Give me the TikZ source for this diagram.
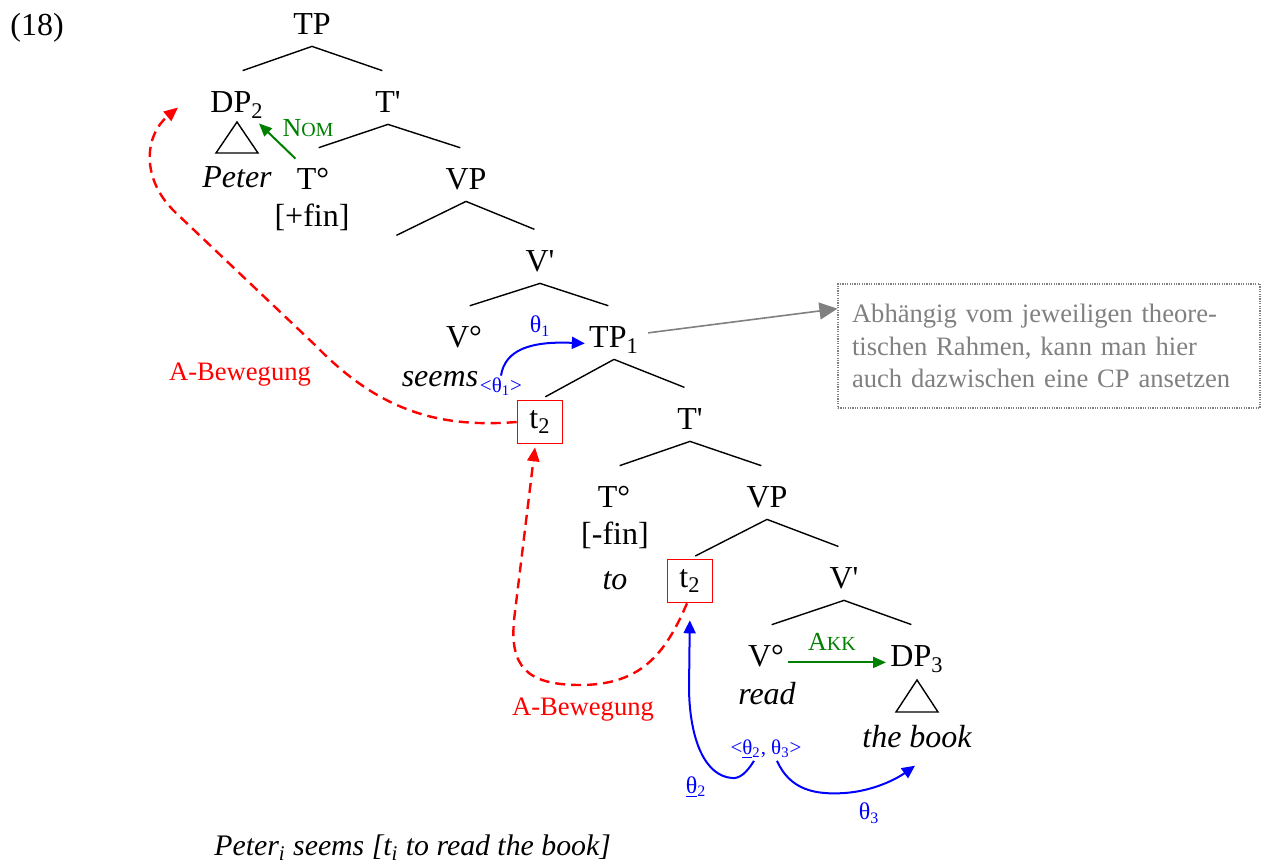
\documentclass[tikz,border=0pt]{standalone}
\usepackage{fontspec}
\setmainfont{Liberation Serif}[Ligatures=TeXOff]
\usepackage{tikz}
\usetikzlibrary{arrows.meta,calc}
\definecolor{casegreen}{RGB}{0,128,0}
\definecolor{notegray}{RGB}{128,128,128}

\begin{document}
\begin{tikzpicture}[
    x=0.5pt, y=-0.5pt,
    cat/.style={anchor=base, inner xsep=2pt, inner ysep=3pt, text height=17pt, text depth=2.5pt,
                font=\fontsize{16}{19}\selectfont},
    word/.style={anchor=base, inner sep=3pt, font=\fontsize{16}{19}\selectfont\itshape},
    feat/.style={anchor=base, inner sep=3pt, font=\fontsize{16}{19}\selectfont},
    trace/.style={draw=red, line width=0.8pt, minimum width=22.5pt, minimum height=21.5pt,
                  inner sep=0pt, font=\fontsize{16}{19}\selectfont},
    branch/.style={line width=0.7pt, shorten >=3pt},
    tri/.style={line width=0.7pt},
    move/.style={red, line width=1.2pt, dash pattern=on 5pt off 3pt, -{Triangle[length=7pt,width=6pt]}},
    movelbl/.style={red, font=\fontsize{13.3}{16}\selectfont},
    theta/.style={blue, line width=1pt, -{Triangle[length=6.5pt,width=6pt]}},
    thlbl/.style={blue, inner sep=1pt, font=\fontsize{12}{14}\selectfont},
    grid/.style={blue, inner sep=1pt, font=\fontsize{10.5}{12}\selectfont},
    case/.style={casegreen, line width=1pt, -{Triangle[length=6.5pt,width=5.5pt]}},
    caselbl/.style={casegreen, inner sep=1pt, font=\fontsize{13}{15}\selectfont},
    notebox/.style={draw=notegray, line width=0.6pt, dash pattern=on 0.6pt off 0.6pt,
                    text=notegray, align=left, text width=197pt, inner xsep=7pt,
                    minimum height=62pt, font=\fontsize{13.3}{16.3}\selectfont},
    notearr/.style={notegray, line width=0.8pt, shorten <=2.5pt, -{Triangle[length=9pt,width=8.5pt]}}
]
\useasboundingbox (0,0) rectangle (1265,865);

\node[feat] (exnum) at (37,36) {(18)};

% --- matrix clause ---
\node[cat] (tp)   at (312,35)  {TP};
\node[cat] (dp2)  at (237,113) {DP\textsubscript{2}};
\node[cat] (tb1)  at (388,113) {T'};
\node[cat] (tfin) at (313,190) {T°};
\node[cat] (vp1)  at (466,190) {VP};
\coordinate (spec1) at (391,238);
\node[cat] (vb1)  at (540,272) {V'};
\node[cat] (vseems) at (464,348) {V°};
\node[cat] (tp1)  at (614,348) {TP\textsubscript{1}};

\node[word] (peter) at (237,188) {Peter};
\node[feat] (pfin)  at (312,227) {[+fin]};
\node[word] (seems) at (440,387) {seems};
\draw[tri] (237,122) -- (216,153) -- (258,153) -- cycle;

\draw[branch] (tp.south)  -- (dp2.north);
\draw[branch] (tp.south)  -- (tb1.north);
\draw[branch] (tb1.south) -- (tfin.north);
\draw[branch] (tb1.south) -- (vp1.north);
\draw[branch] (vp1.south) -- (spec1);
\draw[branch] (vp1.south) -- (vb1.north);
\draw[branch] (vb1.south) -- (vseems.north);
\draw[branch] (vb1.south) -- (tp1.north);

% --- embedded clause ---
\node[trace] (tr1)  at (540,422) {t\textsubscript{2}};
\node[cat] (tb2)    at (690,430) {T'};
\node[cat] (tinf)   at (614,508) {T°};
\node[cat] (vp2)    at (767,508) {VP};
\node[trace] (tr2)  at (690,581) {t\textsubscript{2}};
\node[cat] (vb2)    at (844,589) {V'};
\node[cat] (vread)  at (766,667) {V°};
\node[cat] (dp3)    at (917,667) {DP\textsubscript{3}};

\node[feat] (mfin) at (615,545) {[-fin]};
\node[word] (to)   at (615,590) {to};
\node[word] (read) at (767,705) {read};
\node[word] (book) at (917,748) {the book};
\draw[tri] (917,680) -- (896,712) -- (938,712) -- cycle;

\draw[branch] (tp1.south) -- (tr1.north);
\draw[branch] (tp1.south) -- (tb2.north);
\draw[branch] (tb2.south) -- (tinf.north);
\draw[branch] (tb2.south) -- (vp2.north);
\draw[branch] (vp2.south) -- (tr2.north);
\draw[branch] (vp2.south) -- (vb2.north);
\draw[branch] (vb2.south) -- (vread.north);
\draw[branch] (vb2.south) -- (dp3.north);

% case assignment
\draw[case] ($(tfin.north west)+(3,9)$) -- ($(dp2.south east)+(-9,-1)$);
\node[caselbl] (nom) at (308,128) {N{\fontsize{10}{12}\selectfont OM}};
\draw[case] (vread.mid east) -- (dp3.mid west);
\node[caselbl] (akk) at (832,642) {A{\fontsize{10}{12}\selectfont KK}};

% theta grids and theta roles
\node[grid] (sel1)  at (501,387) {<θ\textsubscript{1}>};
\node[grid] (sel23) at (766,749) {<\underline{θ}\textsubscript{2}, θ\textsubscript{3}>};
\draw[theta] (sel1.north) .. controls (505,350) and (530,341) .. (tp1.mid west);
\node[thlbl] (th1) at (540,326) {θ\textsubscript{1}};
\draw[theta, shorten >=8.5pt] ($(sel23.south)+(-12,0)$) .. controls (747,772) and (740,779) .. (732,778)
    .. controls (705,776) and (690,740) .. (689,690) -- (tr2.south);
\node[thlbl] (th2) at (696,787) {\underline{θ}\textsubscript{2}};
\draw[theta] ($(sel23.south)+(11,0)$) .. controls (790,790) and (815,795) .. (845,793)
    .. controls (872,791) and (895,780) .. ($(book.south)+(-2,11)$);
\node[thlbl] (th3) at (869,813) {θ\textsubscript{3}};

% A-movement of the subject
\draw[move] (tr1.west) .. controls (440,428) and (380,412) .. (315,345) -- (175,212)
    .. controls (140,178) and (145,135) .. ($(dp2.west)+(-28,9)$);
\node[movelbl] (mv1) at (240,375) {A-Bewegung};
\draw[move] ($(tr2.south)+(-3,0)$) .. controls (665,655) and (640,685) .. (580,685)
    .. controls (525,685) and (510,665) .. (514,620) -- ($(tr1.south)+(-5,3)$);
\node[movelbl] (mv2) at (583,710) {A-Bewegung};

% side note
\node[notebox] (note) at (1049,346) {Abhängig vom jeweiligen theore-\\tischen Rahmen, kann man hier\\auch dazwischen eine CP ansetzen};
\draw[notearr] (tp1.east) -- (note.170);

\node[word, anchor=base west, inner sep=1pt, font=\fontsize{14.9}{17}\selectfont\itshape] (gloss) at (212,856)
    {Peter\textsubscript{i} seems [t\textsubscript{i} to read the book]};

\end{tikzpicture}
\end{document}
